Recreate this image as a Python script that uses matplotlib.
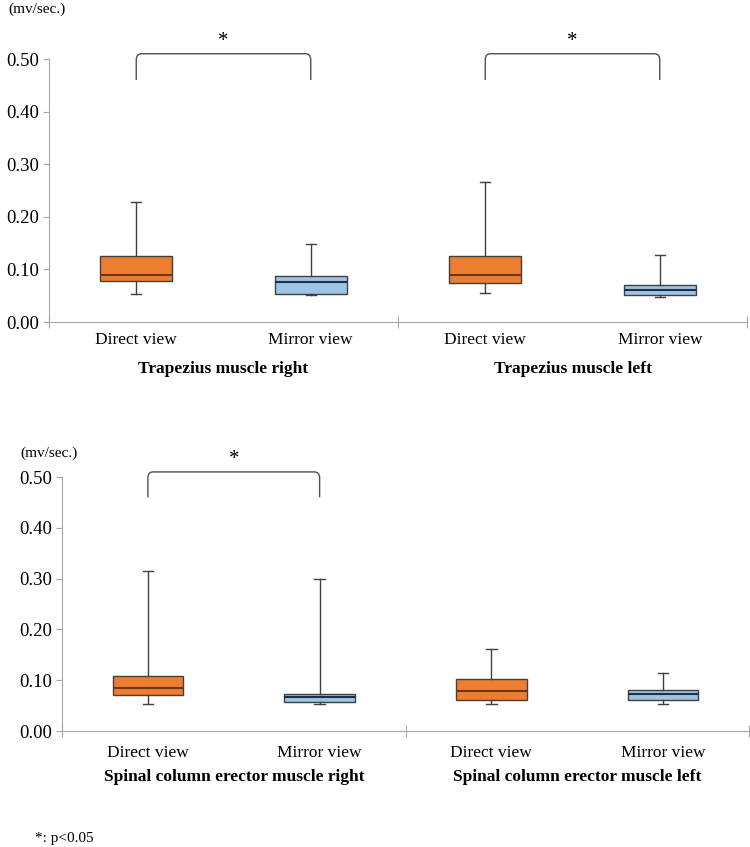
import numpy as np
import matplotlib.pyplot as plt
from matplotlib.path import Path
from matplotlib.patches import PathPatch

# box stats (mv/sec.)
groups_top = ["Trapezius muscle right", "Trapezius muscle left"]
groups_bot = ["Spinal column erector muscle right", "Spinal column erector muscle left"]
views = ["Direct view", "Mirror view"]

# order: right-direct, right-mirror, left-direct, left-mirror
top_whislo = [0.053, 0.051, 0.055, 0.048]
top_q1 = [0.078, 0.053, 0.074, 0.051]
top_med = [0.089, 0.076, 0.089, 0.061]
top_q3 = [0.125, 0.087, 0.125, 0.070]
top_whishi = [0.228, 0.148, 0.266, 0.127]
top_sig = [True, True]

bot_whislo = [0.054, 0.054, 0.054, 0.054]
bot_q1 = [0.070, 0.058, 0.062, 0.062]
bot_med = [0.085, 0.067, 0.079, 0.072]
bot_q3 = [0.109, 0.073, 0.102, 0.081]
bot_whishi = [0.314, 0.300, 0.162, 0.114]
bot_sig = [True, False]

orange = "#ED7D31"
blue = "#9DC3E6"
edge = "#404040"
axis_gray = "#A6A6A6"

plt.rcParams['font.family'] = ['Liberation Serif', 'DejaVu Serif']


def bracket(ax, x0, x1, ylo, yhi, rx=0.03, ry=0.012):
    verts = [(x0, ylo), (x0, yhi - ry), (x0, yhi), (x0 + rx, yhi),
             (x1 - rx, yhi), (x1, yhi), (x1, yhi - ry), (x1, ylo)]
    codes = [Path.MOVETO, Path.LINETO, Path.CURVE3, Path.CURVE3,
             Path.LINETO, Path.CURVE3, Path.CURVE3, Path.LINETO]
    ax.add_patch(PathPatch(Path(verts, codes), fill=False, edgecolor='#505050',
                           lw=1.0, clip_on=False))


def panel(ax, groups, whislo, q1, med, q3, whishi, sig, lab_off, grp_off):
    stats = []
    for i in range(4):
        stats.append(dict(whislo=whislo[i], q1=q1[i], med=med[i],
                          q3=q3[i], whishi=whishi[i], fliers=[]))
    pos = np.arange(4)
    bp = ax.bxp(stats, positions=pos, widths=0.41, patch_artist=True,
                showfliers=False, capwidths=0.06,
                whiskerprops=dict(color=edge, lw=1.0),
                capprops=dict(color=edge, lw=1.0),
                boxprops=dict(edgecolor=edge, lw=1.0))
    for i, b in enumerate(bp['boxes']):
        b.set_facecolor(orange if i % 2 == 0 else blue)
    for i, m in enumerate(bp['medians']):
        m.set_color("#6B3A12" if i % 2 == 0 else "#203040")
        m.set_linewidth(1.5)

    ax.set_xlim(-0.5, 3.5)
    ax.set_ylim(0, 0.5)
    ax.set_yticks(np.arange(0, 0.51, 0.1))
    ax.set_yticklabels(["%.2f" % v for v in np.arange(0, 0.51, 0.1)], fontsize=13.5)
    ax.set_xticks([-0.5, 1.5, 3.5])
    ax.set_xticklabels([])
    ax.tick_params(axis='x', direction='inout', length=8, color=axis_gray)
    ax.tick_params(axis='y', direction='out', length=4, color=axis_gray, pad=3)
    for s in ['top', 'right']:
        ax.spines[s].set_visible(False)
    ax.spines['left'].set_color(axis_gray)
    ax.spines['bottom'].set_color(axis_gray)

    for i in range(4):
        ax.annotate(views[i % 2], xy=(pos[i], 0), xytext=(0, -lab_off),
                    textcoords='offset pixels', ha='center', va='center',
                    fontsize=12.5, annotation_clip=False)
    for g in range(2):
        ax.annotate(groups[g], xy=(2 * g + 0.5, 0), xytext=(0, -grp_off),
                    textcoords='offset pixels', ha='center', va='center',
                    fontsize=12.5, fontweight='bold', annotation_clip=False)
        if sig[g]:
            x0, x1 = 2 * g, 2 * g + 1
            bracket(ax, x0, x1, 0.46, 0.51)
            ax.annotate("*", xy=((x0 + x1) / 2, 0.51), xytext=(0, 12),
                        textcoords='offset pixels', ha='center', va='center',
                        fontsize=15, annotation_clip=False)


fig = plt.figure(figsize=(7.5, 8.47), dpi=100)
ax1 = fig.add_axes([49 / 750, 1 - 322 / 847, 698 / 750, 263 / 847])
ax2 = fig.add_axes([62 / 750, 1 - 731 / 847, 687 / 750, 254 / 847])

panel(ax1, groups_top, top_whislo, top_q1, top_med, top_q3, top_whishi, top_sig, 18, 47)
panel(ax2, groups_bot, bot_whislo, bot_q1, bot_med, bot_q3, bot_whishi, bot_sig, 22, 46)

fig.text(8 / 750, 1 - 9 / 847, "(mv/sec.)", ha='left', va='center', fontsize=11)
fig.text(20 / 750, 1 - 453 / 847, "(mv/sec.)", ha='left', va='center', fontsize=11)
fig.text(35 / 750, 1 - 838 / 847, "*: p<0.05", ha='left', va='center', fontsize=11)

fig.savefig("out.png", dpi=100)
